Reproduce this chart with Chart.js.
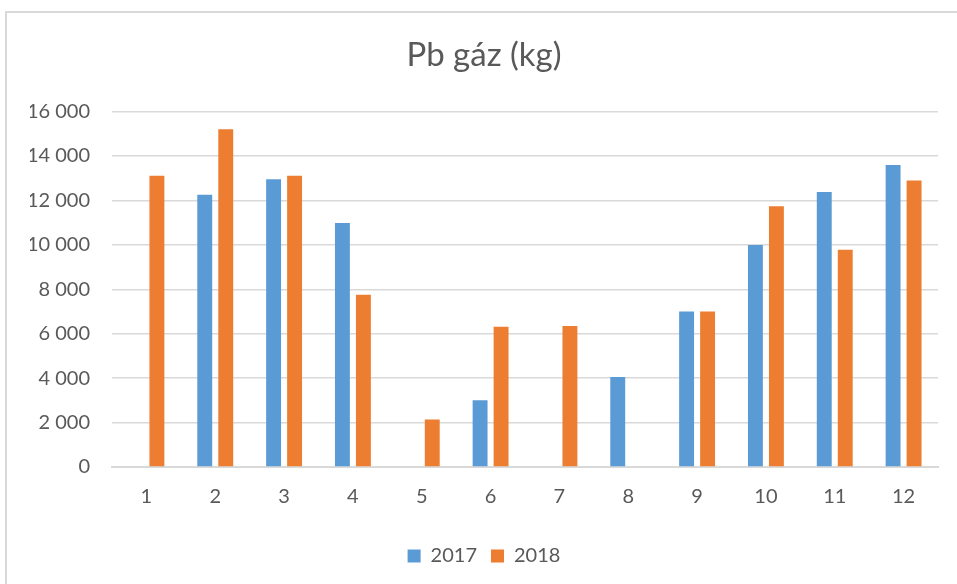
<!DOCTYPE html>
<html>
<head>
<meta charset="utf-8">
<script src="https://cdn.jsdelivr.net/npm/chart.js"></script>
<style>
  body { margin: 0; background: #fff; }
  #wrap { position: relative; width: 957px; height: 584px; }
  #frame { position: absolute; left: 5px; top: 11px; right: -4px; bottom: -4px;
           border: 2px solid #d9d9d9; pointer-events: none; }
</style>
</head>
<body>
<div id="wrap">
  <canvas id="barChart" width="957" height="584"></canvas>
  <div id="frame"></div>
</div>
<script>
let months = ['1','2','3','4','5','6','7','8','9','10','11','12']
let gaz2017 = [0, 12260, 12950, 10990, 0, 3000, 0, 4050, 7000, 10000, 12380, 13600]
let gaz2018 = [13110, 15200, 13110, 7750, 2140, 6310, 6350, 0, 7000, 11740, 9780, 12900]
let yMax = 16000, yStep = 2000

function spaced(v){
  return String(v).replace(/\B(?=(\d{3})+(?!\d))/g, ' ')
}

Chart.defaults.font.family = 'Lato, "Open Sans", sans-serif'
Chart.defaults.color = '#595959'

let ctx = document.getElementById('barChart').getContext('2d')
let myChart = new Chart(ctx, {
  type: 'bar',
  data: {
    labels: months,
    datasets: [{
      label: '2017',
      data: gaz2017,
      backgroundColor: '#5b9bd5',
      categoryPercentage: 0.61,
      barPercentage: 0.71
    },
    {
      label: '2018',
      data: gaz2018,
      backgroundColor: '#ed7d31',
      categoryPercentage: 0.61,
      barPercentage: 0.71
    }]
  },
  options: {
    responsive: false,
    animation: false,
    layout: { padding: { left: 30, right: 19, top: 0, bottom: 8 } },
    plugins: {
      title: {
        display: true,
        text: 'Pb gáz (kg)',
        font: { size: 33, weight: 'normal' },
        color: '#595959',
        padding: { top: 36, bottom: 36 }
      },
      legend: {
        position: 'bottom',
        labels: { boxWidth: 13, boxHeight: 13, font: { size: 20 }, padding: 14, color: '#595959' }
      },
      tooltip: { enabled: false }
    },
    scales: {
      x: {
        grid: { display: false, drawTicks: false },
        border: { color: '#d9d9d9', width: 2 },
        ticks: { font: { size: 20 }, padding: 18, color: '#595959' },
        afterFit: function(scale){ scale.height = 65 }
      },
      y: {
        min: 0, max: yMax,
        grid: { color: '#d9d9d9', lineWidth: 1.5, drawTicks: false },
        border: { display: false },
        ticks: { stepSize: yStep, font: { size: 20 }, padding: 22, color: '#595959',
                 callback: function(v){ return spaced(v) } },
        afterFit: function(scale){ scale.width = 82 }
      }
    }
  }
})
</script>
</body>
</html>
